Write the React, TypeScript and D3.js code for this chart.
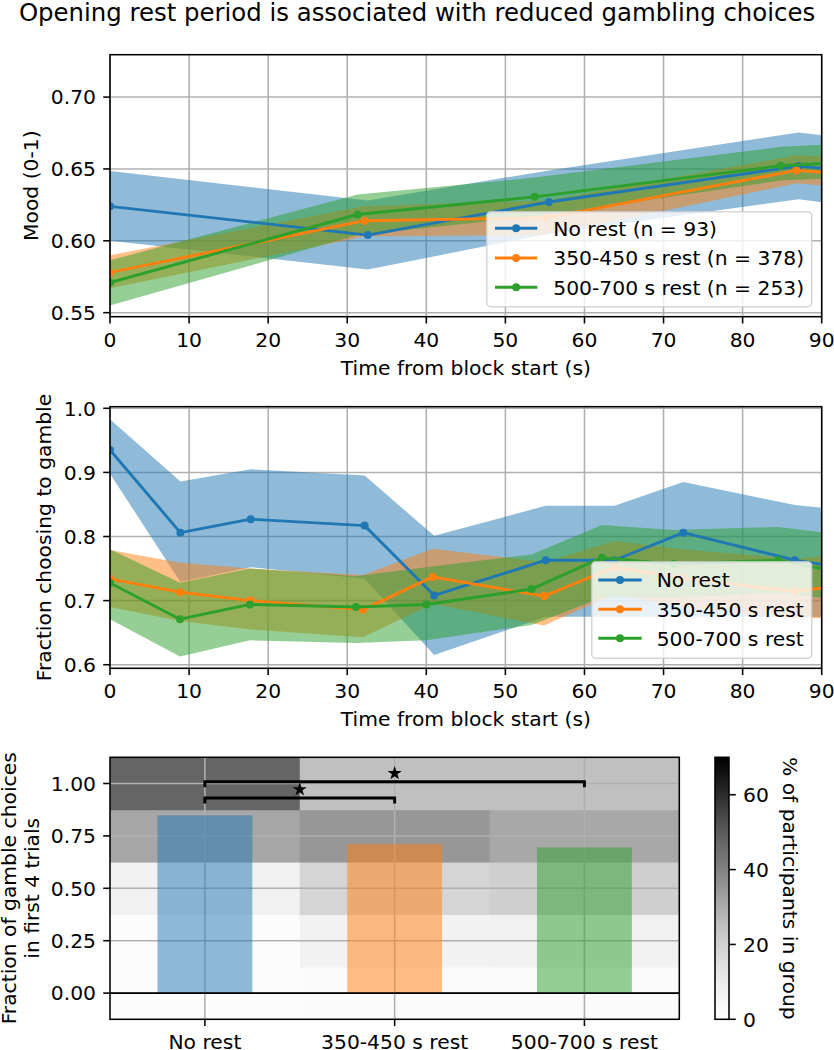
import React from "react";
import * as d3 from "d3";

// ---------------- DATA ----------------
const titleText = "Opening rest period is associated with reduced gambling choices";
const groupColors = ["#1f77b4", "#ff7f0e", "#2ca02c"];

// Panel 1: mood
const moodLabels = ["No rest (n = 93)", "350-450 s rest (n = 378)", "500-700 s rest (n = 253)"];
const moodNoRestT = [0, 32.6, 55.5, 87.1, 118];
const moodNoRestMean = [0.624, 0.604, 0.627, 0.652, 0.636];
const moodNoRestLo = [0.6, 0.58, 0.605, 0.629, 0.607];
const moodNoRestHi = [0.6485, 0.628, 0.649, 0.6754, 0.655];
const moodShortT = [0, 32.2, 55.2, 86.8, 118];
const moodShortMean = [0.578, 0.614, 0.616, 0.649, 0.637];
const moodShortLo = [0.567, 0.603, 0.604, 0.64, 0.625];
const moodShortHi = [0.59, 0.6243, 0.628, 0.6596, 0.652];
const moodLongT = [0, 31.3, 53.7, 84.8, 118];
const moodLongMean = [0.571, 0.6183, 0.6306, 0.6522, 0.662];
const moodLongLo = [0.555, 0.604, 0.617, 0.642, 0.65];
const moodLongHi = [0.5865, 0.6322, 0.644, 0.6654, 0.674];
const moodYTicks = [0.55, 0.6, 0.65, 0.7];

// Panel 2: fraction gambling
const gambleLabels = ["No rest", "350-450 s rest", "500-700 s rest"];
const gambleNoRestT = [0, 8.9, 17.8, 32.2, 41.0, 55.1, 63.8, 72.5, 86.6, 101];
const gambleNoRestMean = [0.935, 0.806, 0.827, 0.817, 0.708, 0.763, 0.763, 0.806, 0.763, 0.736];
const gambleNoRestLo = [0.898, 0.729, 0.752, 0.734, 0.615, 0.675, 0.675, 0.675, 0.675, 0.672];
const gambleNoRestHi = [0.983, 0.886, 0.905, 0.895, 0.801, 0.848, 0.848, 0.885, 0.849, 0.832];
const gambleShortT = [0, 8.9, 17.8, 32.0, 40.8, 54.9, 63.8, 72.5, 86.6, 101];
const gambleShortMean = [0.734, 0.713, 0.7, 0.686, 0.737, 0.707, 0.752, 0.735, 0.7145, 0.736];
const gambleShortLo = [0.69, 0.668, 0.655, 0.643, 0.695, 0.661, 0.71, 0.69, 0.672, 0.676];
const gambleShortHi = [0.779, 0.759, 0.75, 0.74, 0.781, 0.76, 0.793, 0.78, 0.765, 0.785];
const gambleLongT = [0, 8.85, 17.7, 31.1, 40.0, 53.3, 62.2, 71.3, 84.5, 101];
const gambleLongMean = [0.7275, 0.671, 0.694, 0.69, 0.694, 0.718, 0.767, 0.757, 0.763, 0.724];
const gambleLongLo = [0.671, 0.613, 0.638, 0.634, 0.638, 0.662, 0.705, 0.705, 0.712, 0.69];
const gambleLongHi = [0.78, 0.728, 0.75, 0.738, 0.752, 0.772, 0.818, 0.81, 0.815, 0.79];
const gambleYTicks = [0.6, 0.7, 0.8, 0.9, 1.0];

const timeTicks = [0, 10, 20, 30, 40, 50, 60, 70, 80, 90];

// Panel 3: first-4-trials
const groupNames = ["No rest", "350-450 s rest", "500-700 s rest"];
const barMeans = [0.848, 0.711, 0.695];
const fractionLevels = [0, 0.25, 0.5, 0.75, 1.0];
const heatNoRest = [1.5, 2, 7.5, 31.5, 47.5];
const heatShort = [2.5, 7, 18.5, 35, 25];
const heatLong = [2.5, 7.5, 20.5, 31, 25];
const fracTicks = [0, 0.25, 0.5, 0.75, 1.0];
const colorbarTicks = [0, 20, 40, 60];
const colorbarMax = 70;
// significance brackets: [groupA, groupB, height]
const sigA = [0, 0];
const sigB = [2, 1];
const sigY = [1.008, 0.931];

// ---------------- LAYOUT ----------------
const W = 834;
const H = 1050;
const FONT = '"DejaVu Sans", Verdana, sans-serif';
const FS = 20.3;
const TITLE_FS = 24.4;
const LW = 1.55;
const TICK = 6.8;
const GRID = "#b0b0b0";

const plotLeft = 110;
const plotRight = 821.7;
const p1 = { top: 54.7, bottom: 316.7 };
const p2 = { top: 406.7, bottom: 668.3 };
const p3 = { top: 757.3, bottom: 1019.3, right: 679.3 };
const cb = { left: 715, right: 729 };

type Series = { t: number[]; m: number[]; lo: number[]; hi: number[] };

function LinePanel(props: {
  id: string;
  top: number;
  bottom: number;
  yDomain: [number, number];
  yTicks: number[];
  yFmt: (v: number) => string;
  series: Series[];
  labels: string[];
  ylabel: string;
  ylabelX: number;
  legend: { x: number; y: number; w: number; h: number; hx0: number; hx1: number; tx: number; rows: number[] };
}) {
  const { id, top, bottom, yDomain, yTicks, yFmt, series, labels, ylabel, ylabelX, legend } = props;
  const x = d3.scaleLinear().domain([0, 90]).range([plotLeft, plotRight]);
  const y = d3.scaleLinear().domain(yDomain).range([bottom, top]);
  const mkArea = (s: Series) =>
    d3
      .area<number>()
      .x((d, i) => x(s.t[i]))
      .y0((d, i) => y(s.lo[i]))
      .y1((d, i) => y(s.hi[i]))(s.t) || "";
  const mkLine = (s: Series) =>
    d3
      .line<number>()
      .x((d, i) => x(s.t[i]))
      .y((d, i) => y(s.m[i]))(s.t) || "";
  const clipId = "clip-" + id;
  return (
    <g>
      <defs>
        <clipPath id={clipId}>
          <rect x={plotLeft} y={top} width={plotRight - plotLeft} height={bottom - top} />
        </clipPath>
      </defs>
      {timeTicks.map((t) => (
        <line key={"gx" + t} x1={x(t)} x2={x(t)} y1={top} y2={bottom} stroke={GRID} strokeWidth={LW} />
      ))}
      {yTicks.map((v) => (
        <line key={"gy" + v} x1={plotLeft} x2={plotRight} y1={y(v)} y2={y(v)} stroke={GRID} strokeWidth={LW} />
      ))}
      <g clipPath={`url(#${clipId})`}>
        {series.map((s, i) => (
          <path key={"a" + i} d={mkArea(s)} fill={groupColors[i]} fillOpacity={0.5} stroke="none" />
        ))}
        {series.map((s, i) => (
          <g key={"l" + i}>
            <path d={mkLine(s)} fill="none" stroke={groupColors[i]} strokeWidth={2.9} strokeLinejoin="round" />
            {s.t.map((t, j) => (
              <circle key={j} cx={x(t)} cy={y(s.m[j])} r={4} fill={groupColors[i]} />
            ))}
          </g>
        ))}
      </g>
      <rect x={plotLeft} y={top} width={plotRight - plotLeft} height={bottom - top} fill="none" stroke="#000" strokeWidth={LW} />
      {timeTicks.map((t) => (
        <g key={"xt" + t}>
          <line x1={x(t)} x2={x(t)} y1={bottom} y2={bottom + TICK} stroke="#000" strokeWidth={LW} />
          <text x={x(t)} y={bottom + 30} textAnchor="middle" fontSize={FS} fontFamily={FONT}>
            {t}
          </text>
        </g>
      ))}
      <text x={(plotLeft + plotRight) / 2} y={bottom + 58} textAnchor="middle" fontSize={FS} fontFamily={FONT}>
        Time from block start (s)
      </text>
      {yTicks.map((v) => (
        <g key={"yt" + v}>
          <line x1={plotLeft - TICK} x2={plotLeft} y1={y(v)} y2={y(v)} stroke="#000" strokeWidth={LW} />
          <text x={plotLeft - 14} y={y(v)} dy="0.36em" textAnchor="end" fontSize={FS} fontFamily={FONT}>
            {yFmt(v)}
          </text>
        </g>
      ))}
      <text
        transform={`translate(${ylabelX},${(top + bottom) / 2}) rotate(-90)`}
        textAnchor="middle"
        fontSize={FS}
        fontFamily={FONT}
      >
        {ylabel}
      </text>
      <rect
        x={legend.x}
        y={legend.y}
        width={legend.w}
        height={legend.h}
        rx={4}
        fill="#fff"
        fillOpacity={0.8}
        stroke="#cccccc"
        strokeOpacity={0.8}
        strokeWidth={1.5}
      />
      {labels.map((lab, i) => (
        <g key={"lg" + i}>
          <line
            x1={legend.hx0}
            x2={legend.hx1}
            y1={legend.rows[i]}
            y2={legend.rows[i]}
            stroke={groupColors[i]}
            strokeWidth={2.9}
          />
          <circle cx={(legend.hx0 + legend.hx1) / 2} cy={legend.rows[i]} r={4} fill={groupColors[i]} />
          <text x={legend.tx} y={legend.rows[i]} dy="0.36em" fontSize={FS} fontFamily={FONT}>
            {lab}
          </text>
        </g>
      ))}
    </g>
  );
}

function HeatPanel() {
  const x = d3.scaleLinear().domain([-0.5, 2.5]).range([plotLeft, p3.right]);
  const y = d3.scaleLinear().domain([-0.125, 1.125]).range([p3.bottom, p3.top]);
  const color = d3.scaleSequential(d3.interpolateGreys).domain([0, colorbarMax]);
  const heat = [heatNoRest, heatShort, heatLong];
  const half = 0.125;
  const cbY = d3.scaleLinear().domain([0, colorbarMax]).range([p3.bottom, p3.top]);
  const gradStops = d3.range(0, 1.0001, 0.05);
  const star = d3.symbol().type(d3.symbolStar).size(62)() || "";
  return (
    <g>
      <defs>
        <linearGradient id="cbgrad" x1="0" y1="1" x2="0" y2="0">
          {gradStops.map((s) => (
            <stop key={s} offset={s} stopColor={d3.interpolateGreys(s)} />
          ))}
        </linearGradient>
      </defs>
      {heat.map((col, gi) =>
        col.map((v, li) => (
          <rect
            key={gi + "-" + li}
            x={x(gi - 0.5)}
            y={y(fractionLevels[li] + half)}
            width={x(gi + 0.5) - x(gi - 0.5) + 0.5}
            height={y(fractionLevels[li] - half) - y(fractionLevels[li] + half) + 0.5}
            fill={color(v)}
          />
        ))
      )}
      {groupNames.map((g, i) => (
        <line key={"gx" + i} x1={x(i)} x2={x(i)} y1={p3.top} y2={p3.bottom} stroke={GRID} strokeWidth={LW} />
      ))}
      {fracTicks.map((v) => (
        <line key={"gy" + v} x1={plotLeft} x2={p3.right} y1={y(v)} y2={y(v)} stroke={GRID} strokeWidth={LW} />
      ))}
      {barMeans.map((m, i) => (
        <rect
          key={"b" + i}
          x={x(i - 0.25)}
          y={y(m)}
          width={x(i + 0.25) - x(i - 0.25)}
          height={y(0) - y(m)}
          fill={groupColors[i]}
          fillOpacity={0.5}
        />
      ))}
      <line x1={plotLeft} x2={p3.right} y1={y(0)} y2={y(0)} stroke="#000" strokeWidth={LW} />
      {sigA.map((a, k) => {
        const b = sigB[k];
        const yy = y(sigY[k]);
        return (
          <g key={"sig" + k}>
            <path
              d={`M${x(a)},${yy + 5.5} L${x(a)},${yy} L${x(b)},${yy} L${x(b)},${yy + 5.5}`}
              fill="none"
              stroke="#000"
              strokeWidth={2.9}
            />
            <path d={star} transform={`translate(${x((a + b) / 2)},${yy - 8.5})`} fill="#000" />
          </g>
        );
      })}
      <rect x={plotLeft} y={p3.top} width={p3.right - plotLeft} height={p3.bottom - p3.top} fill="none" stroke="#000" strokeWidth={LW} />
      {groupNames.map((g, i) => (
        <g key={"xt" + i}>
          <line x1={x(i)} x2={x(i)} y1={p3.bottom} y2={p3.bottom + TICK} stroke="#000" strokeWidth={LW} />
          <text x={x(i)} y={p3.bottom + 30} textAnchor="middle" fontSize={FS} fontFamily={FONT}>
            {g}
          </text>
        </g>
      ))}
      {fracTicks.map((v) => (
        <g key={"yt" + v}>
          <line x1={plotLeft - TICK} x2={plotLeft} y1={y(v)} y2={y(v)} stroke="#000" strokeWidth={LW} />
          <text x={plotLeft - 14} y={y(v)} dy="0.36em" textAnchor="end" fontSize={FS} fontFamily={FONT}>
            {v.toFixed(2)}
          </text>
        </g>
      ))}
      <text
        transform={`translate(16,${(p3.top + p3.bottom) / 2}) rotate(-90)`}
        textAnchor="middle"
        fontSize={FS}
        fontFamily={FONT}
      >
        Fraction of gamble choices
      </text>
      <text
        transform={`translate(39.3,${(p3.top + p3.bottom) / 2}) rotate(-90)`}
        textAnchor="middle"
        fontSize={FS}
        fontFamily={FONT}
      >
        in first 4 trials
      </text>
      <rect x={cb.left} y={p3.top} width={cb.right - cb.left} height={p3.bottom - p3.top} fill="url(#cbgrad)" />
      <rect x={cb.left} y={p3.top} width={cb.right - cb.left} height={p3.bottom - p3.top} fill="none" stroke="#000" strokeWidth={LW} />
      {colorbarTicks.map((v) => (
        <g key={"cb" + v}>
          <line x1={cb.right} x2={cb.right + TICK} y1={cbY(v)} y2={cbY(v)} stroke="#000" strokeWidth={LW} />
          <text x={cb.right + 14} y={cbY(v)} dy="0.36em" fontSize={FS} fontFamily={FONT}>
            {v}
          </text>
        </g>
      ))}
      <text
        transform={`translate(783,${(p3.top + p3.bottom) / 2}) rotate(90)`}
        textAnchor="middle"
        fontSize={FS}
        fontFamily={FONT}
      >
        % of participants in group
      </text>
    </g>
  );
}

export default function App() {
  const moodSeries: Series[] = [
    { t: moodNoRestT, m: moodNoRestMean, lo: moodNoRestLo, hi: moodNoRestHi },
    { t: moodShortT, m: moodShortMean, lo: moodShortLo, hi: moodShortHi },
    { t: moodLongT, m: moodLongMean, lo: moodLongLo, hi: moodLongHi },
  ];
  const gambleSeries: Series[] = [
    { t: gambleNoRestT, m: gambleNoRestMean, lo: gambleNoRestLo, hi: gambleNoRestHi },
    { t: gambleShortT, m: gambleShortMean, lo: gambleShortLo, hi: gambleShortHi },
    { t: gambleLongT, m: gambleLongMean, lo: gambleLongLo, hi: gambleLongHi },
  ];
  return (
    <svg
      width={W}
      height={H}
      viewBox={`0 0 ${W} ${H}`}
      style={{ position: "absolute", left: 0, top: 0, background: "#fff" }}
    >
      <rect x={0} y={0} width={W} height={H} fill="#fff" />
      <text x={417} y={20.5} textAnchor="middle" fontSize={TITLE_FS} fontFamily={FONT}>
        {titleText}
      </text>
      <LinePanel
        id="mood"
        top={p1.top}
        bottom={p1.bottom}
        yDomain={[0.5472, 0.7295]}
        yTicks={moodYTicks}
        yFmt={(v) => v.toFixed(2)}
        series={moodSeries}
        labels={moodLabels}
        ylabel="Mood (0-1)"
        ylabelX={38}
        legend={{ x: 486.7, y: 211.7, w: 325, h: 95, hx0: 495, hx1: 537.3, tx: 553.3, rows: [228.3, 258, 287.3] }}
      />
      <LinePanel
        id="gamble"
        top={p2.top}
        bottom={p2.bottom}
        yDomain={[0.5944, 1.0025]}
        yTicks={gambleYTicks}
        yFmt={(v) => v.toFixed(1)}
        series={gambleSeries}
        labels={gambleLabels}
        ylabel="Fraction choosing to gamble"
        ylabelX={51}
        legend={{ x: 591.7, y: 561.7, w: 220, h: 96.6, hx0: 598.3, hx1: 641.7, tx: 656.7, rows: [580, 609.3, 638.3] }}
      />
      <HeatPanel />
    </svg>
  );
}
